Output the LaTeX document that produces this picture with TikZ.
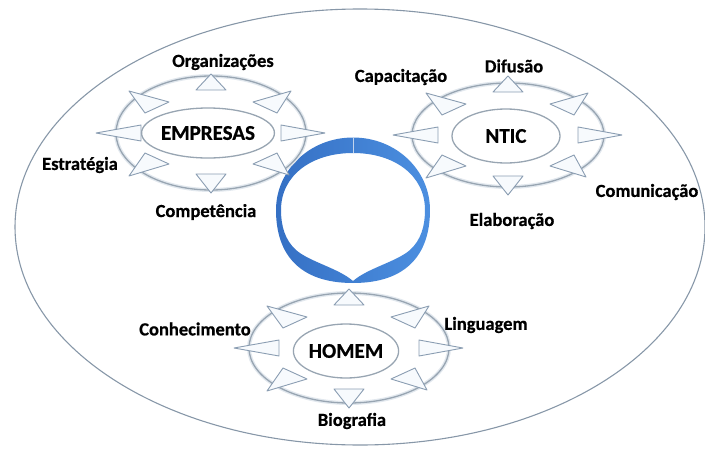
\documentclass[tikz,border=0pt]{standalone}
\usepackage{fontspec}
\setmainfont{Carlito}[BoldFeatures={FakeBold=0.6}]
\usetikzlibrary{shapes.geometric}
\definecolor{outerln}{HTML}{8797A8}
\definecolor{ringln}{HTML}{98A5B2}
\definecolor{glow}{HTML}{E2E8EE}
\definecolor{trifill}{HTML}{F7FAFD}
\definecolor{triln}{HTML}{8A9DB2}
\definecolor{bandA}{HTML}{3570C4}
\definecolor{bandB}{HTML}{4C8FE0}
\tikzset{
  lbl/.style={font=\fontsize{18.5}{22}\selectfont\bfseries, text=black, inner sep=0pt},
  ttl/.style={ellipse, draw=ringln, line width=1.3pt, fill=white, inner sep=0pt,
              font=\fontsize{21}{25}\selectfont\bfseries, text=black},
  clring/.style={ellipse, draw=ringln, line width=1.3pt, inner sep=0pt},
  clglow/.style={ellipse, draw=glow, line width=4pt, inner sep=0pt},
  tri/.style={draw=triln, fill=trifill, line width=0.9pt, line join=round},
}
\newcommand{\startris}{%
  \path[tri] (-15,-43) -- (15,-43) -- (0,-59) -- cycle;
  \path[tri] (-15,41) -- (15,41) -- (0,60) -- cycle;
  \path[tri] (-70,-8) -- (-70,8) -- (-115,0) -- cycle;
  \path[tri] (70,-8) -- (70,8) -- (114,0) -- cycle;
  \path[tri] (-42,-31) -- (-66,-20) -- (-82,-42) -- cycle;
  \path[tri] (42,-31) -- (66,-20) -- (80,-42) -- cycle;
  \path[tri] (-42,31) -- (-66,20) -- (-82,43) -- cycle;
  \path[tri] (42,31) -- (66,20) -- (78,42) -- cycle;
}
\begin{document}
\begin{tikzpicture}[x=1pt,y=-1pt]
\useasboundingbox (0,0) rectangle (705,450);
% big outer ellipse
\node[ellipse, draw=outerln, line width=1.1pt, minimum width=690pt, minimum height=436pt, inner sep=0pt] (world) at (360,227) {};

% blue ribbon ring
\shade[left color=bandA, right color=bandB, even odd rule]
  (353,137.5) .. controls (396,137.5) and (430,170) .. (430,210)
              .. controls (430,255) and (406,283) .. (353,283)
              .. controls (300,283) and (276,255) .. (276,210)
              .. controls (276,170) and (310,137.5) .. (353,137.5) -- cycle
  (353,281) .. controls (338,268) and (310,262) .. (296,250)
            .. controls (285,240) and (281,226) .. (281,210)
            .. controls (281,175) and (312,153) .. (353,153)
            .. controls (394,153) and (425,175) .. (425,210)
            .. controls (425,226) and (421,240) .. (410,250)
            .. controls (396,262) and (368,268) .. (353,281) -- cycle;
\coordinate (ringtop) at (353,137.5);
\coordinate (ringtopin) at (353,153);
\draw[white!70!bandA, line width=0.8pt] (ringtop) -- (ringtopin);

% EMPRESAS cluster
\node[clglow, minimum width=190pt, minimum height=114pt] (empglow) at (211,133) {};
\node[clring, minimum width=190pt, minimum height=114pt] (empring) at (211,133) {};
\begin{scope}[shift={(211,133)}]\startris\end{scope}
\node[ttl, minimum width=114pt, minimum height=50pt] (emp) at (208,133) {EMPRESAS};

% NTIC cluster
\node[clglow, minimum width=192pt, minimum height=104pt] (ntglow) at (508,135) {};
\node[clring, minimum width=192pt, minimum height=104pt] (ntring) at (508,135) {};
\begin{scope}[shift={(508,135)}]\startris\end{scope}
\node[ttl, minimum width=108pt, minimum height=54pt] (ntic) at (506,136) {NTIC};

% HOMEM cluster
\node[clglow, minimum width=200pt, minimum height=110pt] (hoglow) at (349,348) {};
\node[clring, minimum width=200pt, minimum height=110pt] (horing) at (349,348) {};
\begin{scope}[shift={(349,348)}]\startris\end{scope}
\node[ttl, minimum width=104pt, minimum height=54pt] (homem) at (346,351) {HOMEM};

% labels
\node[lbl] (org) at (223,62) {Organizações};
\node[lbl] (est) at (80,165) {Estratégia};
\node[lbl] (comp) at (206,212) {Competência};
\node[lbl] (cap) at (401,77) {Capacitação};
\node[lbl] (dif) at (514,66) {Difusão};
\node[lbl] (com) at (647,192) {Comunicação};
\node[lbl] (ela) at (512,221) {Elaboração};
\node[lbl] (con) at (195,329) {Conhecimento};
\node[lbl] (lin) at (486,325) {Linguagem};
\node[lbl] (bio) at (352,421) {Biografia};
\end{tikzpicture}
\end{document}
